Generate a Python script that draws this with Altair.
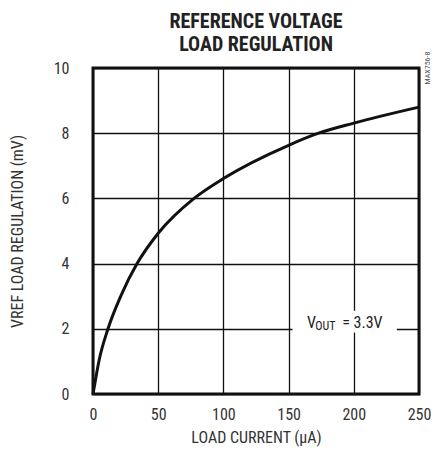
import altair as alt
import pandas as pd

# Data
load_current = [0, 1.8, 4.6, 11.5, 21.8, 33.8, 50, 77.5, 100, 150, 173, 200, 250]
vref_reg = [0, 0.41, 1.02, 2.0, 3.05, 4.0, 4.93, 6.0, 6.61, 7.63, 8.0, 8.31, 8.8]

x_ticks = [0, 50, 100, 150, 200, 250]
y_ticks = [0, 2, 4, 6, 8, 10]

# annotation "V_OUT = 3.3V"
ann_text = ["V", "OUT", "= 3.3V"]
ann_x = [164.1, 170.5, 191.1]
ann_y = [2.015, 1.975, 2.015]
ann_size = [16, 12, 16]

FONT = "Roboto Condensed"
W, H = 326, 326

df = pd.DataFrame({"x": load_current, "y": vref_reg})

xs = alt.Scale(domain=[0, 250], nice=False)
ys = alt.Scale(domain=[0, 10], nice=False)

line = alt.Chart(df).mark_line(color="#111", strokeWidth=3, interpolate="monotone").encode(
    x=alt.X("x:Q", scale=xs, axis=alt.Axis(values=x_ticks, title="LOAD CURRENT (µA)",
                                          labelFlush=False)),
    y=alt.Y("y:Q", scale=ys, axis=alt.Axis(values=y_ticks, title="VREF LOAD REGULATION (mV)",
                                          labelFlush=False)),
)

box_df = pd.DataFrame({"x": [153], "x2": [233], "y": [1.89], "y2": [2.55]})
box = alt.Chart(box_df).mark_rect(color="white").encode(
    x="x:Q", x2="x2:Q", y="y:Q", y2="y2:Q"
)

lab_df = pd.DataFrame({"x": ann_x, "y": ann_y, "t": ann_text, "fs": ann_size})
labels = alt.Chart(lab_df).mark_text(
    align="left", baseline="alphabetic", font=FONT, color="#222"
).encode(
    x="x:Q", y="y:Q", text="t:N",
    size=alt.Size("fs:Q", scale=None, legend=None),
)

side = alt.Chart(pd.DataFrame({"t": ["MAX756-8"]})).mark_text(
    angle=270, align="center", baseline="middle", font=FONT, fontSize=8, color="#555"
).encode(x=alt.value(W + 9), y=alt.value(0), text="t:N")

chart = alt.layer(line, box, labels, side).properties(
    width=W, height=H,
    autosize=alt.AutoSizeParams(type="none"),
    padding={"left": 85, "top": 60, "right": 12, "bottom": 54},
    title=alt.TitleParams(
        ["REFERENCE VOLTAGE", "LOAD REGULATION"],
        font=FONT, fontSize=20, fontWeight="bold", color="#222",
        lineHeight=23, offset=8, dy=11, anchor="middle", frame="group",
    ),
).configure_view(stroke="#111", strokeWidth=3).configure_axis(
    grid=True, gridColor="#111", gridWidth=1.3, domain=False, ticks=False,
    labelFont=FONT, titleFont=FONT, labelFontSize=16, titleFontSize=16,
    labelColor="#333", titleColor="#333", titleFontWeight="normal",
).configure_axisY(labelPadding=24, titlePadding=28).configure_axisX(
    labelPadding=12, titlePadding=7
)

chart.save("out.html", embed_options={"renderer": "svg", "actions": False})
